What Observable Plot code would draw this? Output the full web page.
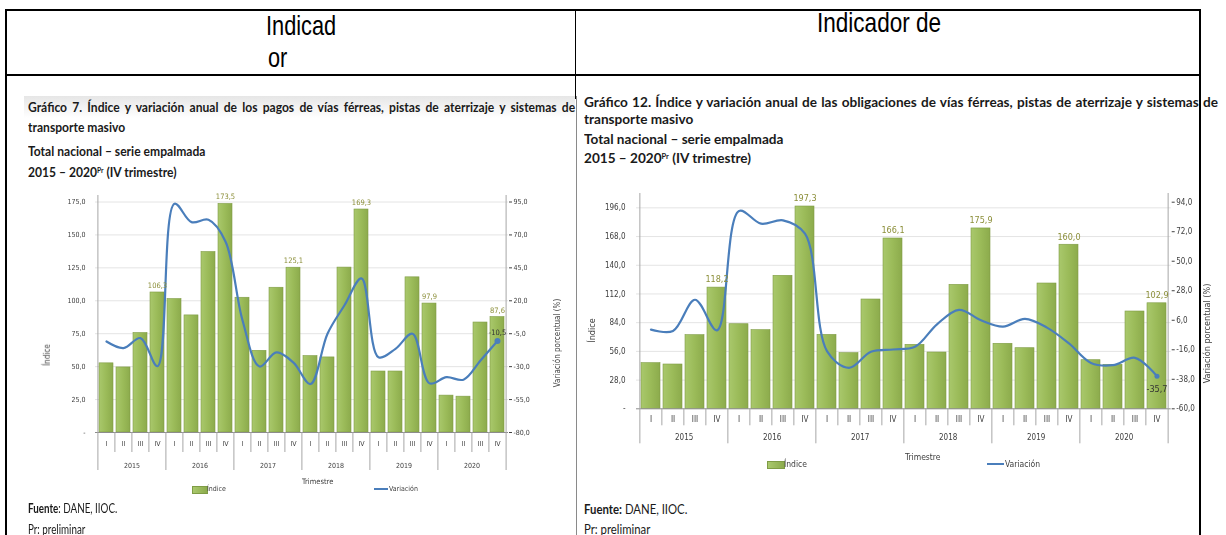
<!DOCTYPE html>
<html><head><meta charset="utf-8">
<script src="https://cdn.jsdelivr.net/npm/d3@7"></script>
<script src="https://cdn.jsdelivr.net/npm/@observablehq/plot@0.6"></script>
<style>
html,body{margin:0;padding:0;background:#fff;}
body{width:1226px;height:535px;position:relative;overflow:hidden;font-family:Lato,"Open Sans",sans-serif;color:#111;}
.abs{position:absolute;white-space:nowrap;display:inline-block;transform-origin:0 0;}
.hdr{font-family:"Liberation Sans Narrow","Liberation Sans",Arial,sans-serif;font-size:28px;line-height:28px;color:#000;}
.ttl{font-weight:700;line-height:1;color:#1a1a1a;}
.ttl sup{font-size:0.55em;vertical-align:0.55em;line-height:0;}
.src{font-size:13px;line-height:13px;color:#1a1a1a;}
.ax{font-family:"Liberation Sans Narrow","DejaVu Sans Condensed",sans-serif;color:#404040;}
.line{position:absolute;background:#000;}
.chart{position:absolute;transform:translateZ(0);will-change:transform;}
</style>
</head><body>
<script>
// ---------- data ----------
const years = ["2015","2016","2017","2018","2019","2020"];
const quarters = ["I","II","III","IV"];
// Gráfico 7 (pagos)
const pagosIndice = [52.5,49.4,75.5,106.3, 101.3,88.9,137.0,173.5, 102.3,62.0,109.9,125.1, 58.0,57.0,125.2,169.3, 46.3,46.3,117.8,97.9, 28.0,27.2,83.5,87.6];
const pagosVariacion = [-10.9,-15.9,-8.3,-29.7, 93.7,79.7,81.5,65.0, 5.2,-29.9,-19.2,-27.0, -43.2,-5.0,16.6,37.0, -22.8,-16.5,-5.0,-42.7, -38.0,-39.9,-25.4,-10.5];
const pagosTicksIndice = [0,25,50,75,100,125,150,175];
const pagosTicksVariacion = [-80,-55,-30,-5,20,45,70,95];
// Gráfico 12 (obligaciones)
const obligIndice = [44.5,43.2,71.8,118.2, 82.5,76.7,129.7,197.3, 72.1,54.3,106.6,166.1, 62.4,54.9,120.9,175.9, 63.4,59.1,122.2,160.0, 47.4,42.9,94.9,102.9];
const obligVariacion = [-1.0,-2.0,21.3,-1.5, 87.5,78.0,80.5,70.5, -17.0,-29.5,-17.5,-15.8, -13.8,3.0,13.8,6.0, 1.3,7.0,0.5,-11.3, -25.8,-27.5,-22.0,-35.7];
const obligTicksIndice = [0,28,56,84,112,140,168,196];
const obligTicksVariacion = [-60,-38,-16,6,28,50,72,94];

const fmt = v => (Math.round(v * 10) / 10).toFixed(1).replace(".", ",");

function el(tag, cls, html, css) {
  const e = document.createElement(tag);
  if (cls) e.className = cls;
  if (html != null) e.innerHTML = html;
  Object.assign(e.style, css || {});
  document.body.appendChild(e);
  return e;
}

function drawChart(cfg) {
  const keys = [];
  years.forEach(y => quarters.forEach(q => keys.push(y + "-" + q)));
  const data = keys.map((key, i) => ({
    key, i, q: quarters[i % 4], year: years[Math.floor(i / 4)],
    idx: cfg.indice[i], v: cfg.variacion[i], vy: cfg.toY(cfg.variacion[i])
  }));
  const plotW = cfg.width - cfg.ml - cfg.mr;
  const plotH = cfg.height - cfg.mt - cfg.mb;
  const k = plotH / cfg.yMax;
  const u = p => -p / k;
  const step = plotW / 24;
  const top = cfg.yMax + cfg.ext / k;
  const last = data[23];
  const axisColor = "#a6a6a6";
  const svg = Plot.plot({
    width: cfg.width, height: cfg.height,
    marginLeft: cfg.ml, marginRight: cfg.mr, marginTop: cfg.mt, marginBottom: cfg.mb,
    style: {fontFamily: '"Liberation Sans Narrow","DejaVu Sans Condensed",sans-serif', fontSize: cfg.fs + "px", color: "#404040", background: "transparent", overflow: "visible"},
    x: {type: "band", domain: keys, paddingInner: cfg.pad, paddingOuter: cfg.pad / 2, axis: null},
    y: {domain: [0, cfg.yMax], axis: null, label: null},
    marks: [
      Plot.gridY(cfg.leftTicks.filter(t => t > 0), {stroke: "#e4e4e4", strokeOpacity: 1}),
      Plot.barY(data, {x: "key", y: "idx", fill: `url(#${cfg.id}-g)`, stroke: "#7f9c45", strokeWidth: 0.6}),
      Plot.ruleY([0], {stroke: "#8c8c8c"}),
      Plot.ruleX(data.slice(1), {x: "key", dx: -step / 2, y1: 0, y2: d => u(d.i % 4 === 0 ? cfg.longLen : cfg.shortLen), stroke: axisColor}),
      Plot.ruleX([data[0]], {x: "key", dx: -step / 2, y1: top, y2: u(cfg.longLen), stroke: axisColor}),
      Plot.ruleX([last], {x: "key", dx: step / 2, y1: top, y2: u(cfg.longLen), stroke: axisColor}),
      Plot.axisY(cfg.leftTicks, {anchor: "left", tickSize: 0, tickPadding: cfg.lpad, tickFormat: d => d === 0 ? "-" : fmt(d), fontSize: cfg.fs, label: null, color: "#404040"}),
      Plot.axisY(cfg.rightTicks.map(cfg.toY), {anchor: "right", tickSize: 3, tickPadding: 2, tickFormat: d => fmt(cfg.fromY(d)), fontSize: cfg.fs, label: null, color: "#404040"}),
      Plot.text(data, {x: "key", y: 0, text: "q", dy: cfg.qDy, fontSize: cfg.fs, fill: "#404040"}),
      Plot.text(data.filter(d => d.i % 4 === 1), {x: "key", y: 0, text: "year", dx: step / 2, dy: cfg.yDy, fontSize: cfg.fs, fill: "#404040"}),
      Plot.line(data, {x: "key", y: "vy", curve: "catmull-rom", stroke: "#4a7ebb", strokeWidth: cfg.lw}),
      Plot.dot([last], {x: "key", y: "vy", r: cfg.dotR, fill: "#4a7ebb", stroke: "none"}),
      Plot.text(data.filter(d => d.i % 4 === 3), {x: "key", y: "idx", text: d => fmt(d.idx), dy: -cfg.labDy, fill: "#8c8f3a", fontSize: cfg.lfs}),
      Plot.text([last], {x: "key", y: "vy", text: d => fmt(d.v), dy: cfg.vDy, dx: cfg.vDx, fill: "#333", fontSize: cfg.lfs})
    ]
  });
  const ns = "http://www.w3.org/2000/svg";
  const defs = document.createElementNS(ns, "defs");
  defs.innerHTML = `<linearGradient id="${cfg.id}-g" x1="0" x2="1" y1="0" y2="0">
    <stop offset="0" stop-color="#a9c86c"/><stop offset="0.5" stop-color="#9bbb59"/><stop offset="1" stop-color="#8cab4c"/></linearGradient>`;
  svg.insertBefore(defs, svg.firstChild);
  svg.classList.add("chart");
  svg.style.left = cfg.left + "px";
  svg.style.top = cfg.top + "px";
  document.body.appendChild(svg);
}

// ---------- background of left picture ----------
el("div", null, null, {position: "absolute", left: "24px", top: "96px", width: "551px", height: "22px", background: "linear-gradient(#e6e6e6,#ffffff)"});

// ---------- header ----------
const h1 = el("div", "abs hdr", "Indicad", {left: "266px", top: "12px"});
const h2 = el("div", "abs hdr", "or", {left: "268px", top: "44px"});
const h3 = el("div", "abs hdr", "Indicador de", {left: "817px", top: "9px"});

// ---------- titles ----------
function titleLines(x, fs, centers, n) {
  const txt = [
    `Gráfico ${n}. Índice y variación anual de ${n === 7 ? "los pagos" : "las obligaciones"} de vías férreas, pistas de aterrizaje y sistemas de`,
    "transporte masivo",
    "Total nacional – serie empalmada",
    "2015 – 2020<sup>Pr</sup> (IV trimestre)"
  ];
  return txt.map((t, i) => el("div", "abs ttl", t, {left: x + "px", top: (centers[i] - 0.634 * fs) + "px", fontSize: fs + "px"}));
}
const tl = titleLines(28, 14, [108.5, 128.5, 152.5, 174], 7);
const tr = titleLines(583.5, 12.5, [104.5, 122, 141.5, 160.5], 12);

// ---------- charts ----------
drawChart({
  id: "c7", left: 30, top: 190, width: 540, height: 310,
  ml: 65, mr: 62, mt: 11.5, mb: 68, pad: 0.18,
  yMax: 175, toY: v => v + 80, fromY: y => y - 80,
  leftTicks: pagosTicksIndice, rightTicks: pagosTicksVariacion,
  indice: pagosIndice, variacion: pagosVariacion,
  ext: 6.5, shortLen: 20, longLen: 38, qDy: 11, yDy: 33, lpad: 10,
  fs: 7, lfs: 7.5, lw: 2.2, dotR: 3, labDy: 7, vDy: -8, vDx: 0
});
drawChart({
  id: "c12", left: 580, top: 185, width: 640, height: 290,
  ml: 56, mr: 49.3, mt: 16.7, mb: 66.7, pad: 0.15,
  yMax: 201.5, toY: v => (v + 60) * 201.5 / 154, fromY: y => y * 154 / 201.5 - 60,
  leftTicks: obligTicksIndice, rightTicks: obligTicksVariacion,
  indice: obligIndice, variacion: obligVariacion,
  ext: 8.7, shortLen: 17, longLen: 35, qDy: 11, yDy: 29, lpad: 11,
  fs: 8, lfs: 9, lw: 2.2, dotR: 2.5, labDy: 8, vDy: 13, vDx: 0
});

// ---------- axis titles, legends ----------
function rot(text, cx, cy, fs) {
  const e = el("div", "abs ax", text, {fontSize: fs + "px", lineHeight: fs + "px"});
  const w = e.offsetWidth, h = e.offsetHeight;
  e.style.left = (cx - w / 2) + "px";
  e.style.top = (cy - h / 2) + "px";
  e.style.transformOrigin = "50% 50%";
  e.style.transform = "rotate(-90deg)";
}
rot("Índice", 48, 355, 8);
rot("Variación porcentual (%)", 558, 343, 8);
rot("Índice", 592, 330, 9);
rot("Variación porcentual (%)", 1208, 333, 9);

function txt(text, x, cy, fs) {
  return el("div", "abs ax", text, {left: x + "px", top: (cy - fs / 2) + "px", fontSize: fs + "px", lineHeight: fs + "px"});
}
txt("Trimestre", 302, 482, 7.5);
txt("Trimestre", 905, 457, 8.5);
el("div", null, null, {position: "absolute", left: "192px", top: "486px", width: "14px", height: "6px", background: "linear-gradient(90deg,#a9c86c,#8cab4c)", border: "0.5px solid #7f9c45"});
txt("Índice", 207, 489, 7);
el("div", null, null, {position: "absolute", left: "374px", top: "488px", width: "14px", height: "2px", background: "#4a7ebb"});
txt("Variación", 389, 489, 7);
el("div", null, null, {position: "absolute", left: "767px", top: "461px", width: "16px", height: "6px", background: "linear-gradient(90deg,#a9c86c,#8cab4c)", border: "0.5px solid #7f9c45"});
txt("Índice", 784, 464, 8.5);
el("div", null, null, {position: "absolute", left: "987px", top: "463px", width: "17px", height: "2px", background: "#4a7ebb"});
txt("Variación", 1005, 464, 8.5);

// ---------- sources ----------
const f1 = el("div", "abs src", "<b>Fuente</b>: DANE, IIOC.", {left: "28px", top: "502px"});
const f2 = el("div", "abs src", "Pr: preliminar", {left: "28px", top: "523px"});
const f3 = el("div", "abs src", "<b>Fuente:</b> DANE, IIOC.", {left: "584px", top: "503px"});
const f4 = el("div", "abs src", "Pr: preliminar", {left: "584px", top: "523px"});

// ---------- table lines ----------
function line(x, y, w, h, c) { el("div", "line", null, {left: x + "px", top: y + "px", width: w + "px", height: h + "px", background: c || "#000"}); }
line(5, 9, 1196, 2);
line(5, 74, 1196, 1.5);
line(5, 9, 2, 526);
line(1199, 9, 2, 526);
line(574.5, 9, 1.5, 90);
line(575.5, 96, 1, 439, "#8a8a8a");

// ---------- fitting ----------
function fitScale(e, w) { return w / e.offsetWidth; }
const fh = fitScale(h1, 70);
h1.style.transform = h2.style.transform = `scaleX(${fh})`;
h3.style.transform = `scaleX(${fitScale(h3, 124)})`;
function fitTitle(lines, refW, firstW) {
  const f = refW / lines[2].offsetWidth;
  const L1 = lines[0];
  const n = (L1.textContent.match(/ /g) || []).length;
  const need = firstW / f - L1.offsetWidth;
  L1.style.wordSpacing = (need / n) + "px";
  lines.forEach(e => { e.style.transform = `scaleX(${f})`; });
}
fitTitle(tl, 177, 547);
fitTitle(tr, 199, 634);
const fs1 = fitScale(f1, 89);
f1.style.transform = f2.style.transform = `scaleX(${fs1})`;
const fs2 = fitScale(f3, 103);
f3.style.transform = f4.style.transform = `scaleX(${fs2})`;
</script>
</body></html>
